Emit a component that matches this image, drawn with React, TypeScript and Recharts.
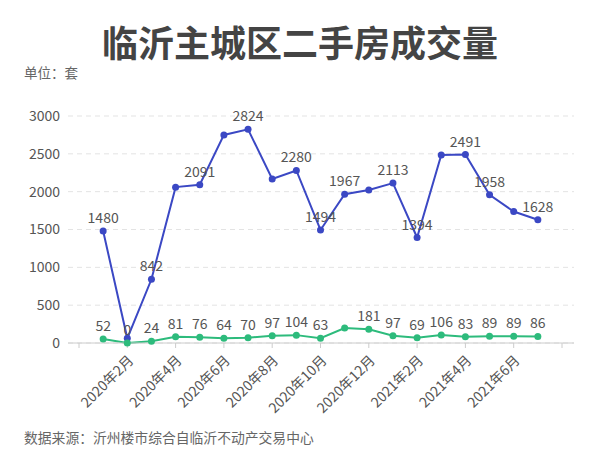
import React from "react";
import { LineChart, Line, XAxis, YAxis, CartesianGrid, LabelList } from "recharts";

const months = [
  "2019年12月",
  "2020年1月", "2020年2月", "2020年3月", "2020年4月", "2020年5月", "2020年6月",
  "2020年7月", "2020年8月", "2020年9月", "2020年10月", "2020年11月", "2020年12月",
  "2021年1月", "2021年2月", "2021年3月", "2021年4月", "2021年5月", "2021年6月", "2021年7月",
  "2021年8月",
];
const seriesA: (number | null)[] = [
  null,
  1480, 62, 842, 2060, 2091, 2750,
  2824, 2167, 2280, 1494, 1967, 2022,
  2113, 1394, 2486, 2491, 1958, 1737, 1628,
  null,
];
const seriesB: (number | null)[] = [
  null,
  52, 0, 24, 81, 76, 64,
  70, 97, 104, 63, 198, 181,
  97, 69, 106, 83, 89, 89, 86,
  null,
];
// months whose value label is hidden (overlap) in the reference
const hiddenA = ["2020年2月", "2020年4月", "2020年6月", "2020年8月", "2020年12月", "2021年3月", "2021年6月"];
const hiddenB = ["2020年11月"];
const shownTickLabels = months.slice(1, months.length - 1);
const yTicks = [0, 500, 1000, 1500, 2000, 2500, 3000];

const data = months.map((m, i) => ({ month: m, a: seriesA[i], b: seriesB[i] }));

const BLUE = "#3b48c4";
const GREEN = "#2dbb7c";
const FONT = '"Noto Sans CJK SC", "Noto Sans", sans-serif';

const makeLabel = (hidden: string[]) => (props: any) => {
  const { x, y, value, index } = props;
  if (value == null) return null;
  if (hidden.includes(months[index])) return null;
  return (
    <text x={x} y={y - 8} textAnchor="middle" fill="#555" fontSize={14} fontFamily={FONT}>
      {value}
    </text>
  );
};

const XTick = (props: any) => {
  const { x, y, payload } = props;
  if (!shownTickLabels.includes(payload.value)) return null;
  const ty = y + 7;
  return (
    <text
      x={x}
      y={ty}
      transform={`rotate(-45, ${x}, ${ty})`}
      textAnchor="end"
      dy={8}
      dx={2}
      fill="#555"
      fontSize={14}
      fontFamily={FONT}
    >
      {payload.value}
    </text>
  );
};

export default function App() {
  return (
    <div style={{ position: "absolute", left: 0, top: 0, width: 600, height: 470, background: "#fff", fontFamily: FONT }}>
      <div style={{ position: "absolute", left: 0, width: 600, top: 16, textAlign: "center", fontSize: 36, fontWeight: "bold", color: "#444", lineHeight: "50px" }}>
        临沂主城区二手房成交量
      </div>
      <div style={{ position: "absolute", left: 24, top: 62, fontSize: 13.5, color: "#666", lineHeight: "20px" }}>单位：套</div>
      <div style={{ position: "absolute", left: 24, top: 427, fontSize: 13.8, color: "#666", lineHeight: "20px" }}>
        数据来源：沂州楼市综合自临沂不动产交易中心
      </div>
      <div style={{ position: "absolute", left: 0, top: 0 }}>
        <LineChart width={600} height={470} data={data} margin={{ top: 116, right: 26, bottom: 0, left: 8 }}>
          <CartesianGrid vertical={false} stroke="#e3e3e3" strokeDasharray="5 4" />
          <XAxis
            dataKey="month"
            interval={1}
            padding={{ left: 11, right: 12 }}
            axisLine={{ stroke: "#ccc" }}
            tickLine={{ stroke: "#ccc" }}
            tickSize={5}
            tick={<XTick />}
            height={127}
          />
          <YAxis
            domain={[0, 3000]}
            ticks={yTicks}
            width={60}
            axisLine={false}
            tickLine={false}
            tick={{ fill: "#555", fontSize: 14, fontFamily: FONT }}
            tickMargin={2}
          />
          <Line
            type="linear"
            dataKey="a"
            stroke={BLUE}
            strokeWidth={2}
            dot={{ r: 3.5, fill: BLUE, stroke: BLUE, strokeWidth: 0 }}
            isAnimationActive={false}
            connectNulls={false}
          >
            <LabelList dataKey="a" content={makeLabel(hiddenA)} />
          </Line>
          <Line
            type="linear"
            dataKey="b"
            stroke={GREEN}
            strokeWidth={2}
            dot={{ r: 3.5, fill: GREEN, stroke: GREEN, strokeWidth: 0 }}
            isAnimationActive={false}
          >
            <LabelList dataKey="b" content={makeLabel(hiddenB)} />
          </Line>
        </LineChart>
      </div>
    </div>
  );
}
